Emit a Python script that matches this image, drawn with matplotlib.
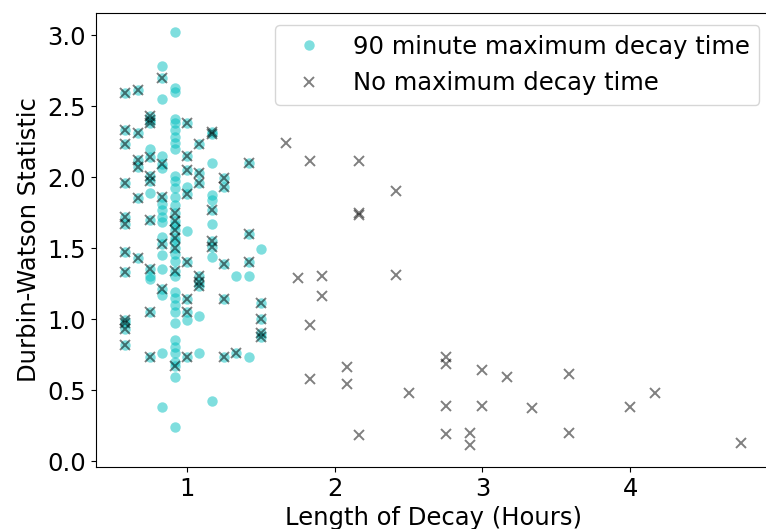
import matplotlib
matplotlib.use("Agg")
import matplotlib.pyplot as plt

# Points present in both series (decay <= 90 min)
both_x = ([0.583] * 12 + [0.667] * 6 + [0.75] * 10 + [0.833] * 5 + [0.917] * 7 +
          [1.0] * 8 + [1.083] * 6 + [1.167] * 5 + [1.25] * 5 + [1.333] * 1 +
          [1.417] * 3 + [1.5] * 4)
both_y = [2.59, 2.33, 2.23, 1.96, 1.72, 1.67, 1.47, 1.33, 0.99, 0.97, 0.93, 0.82,
          2.61, 2.31, 2.12, 2.07, 1.85, 1.43,
          2.43, 2.40, 2.38, 2.14, 2.01, 1.97, 1.70, 1.35, 1.05, 0.73,
          2.70, 2.09, 1.86, 1.53, 1.21,
          1.75, 1.69, 1.63, 1.57, 1.50, 1.34, 0.67,
          2.38, 2.15, 2.05, 1.88, 1.40, 1.14, 1.05, 0.73,
          2.23, 2.03, 1.96, 1.30, 1.26, 1.23,
          2.32, 2.30, 1.77, 1.55, 1.51,
          1.99, 1.93, 1.39, 1.14, 0.73,
          0.76,
          2.10, 1.60, 1.40,
          1.11, 1.00, 0.90, 0.87]

# Points only in the 90-minute-maximum series
cap_only_x = ([0.75] * 4 + [0.833] * 14 + [0.917] * 30 + [1.0] * 3 + [1.083] * 2 +
              [1.167] * 6 + [1.333] * 1 + [1.417] * 2 + [1.5] * 1)
cap_only_y = [2.20, 1.89, 1.30, 1.28,
              2.78, 2.55, 2.15, 2.06, 1.81, 1.77, 1.72, 1.685, 1.58, 1.45, 1.35, 1.17, 0.76, 0.38,
              3.02, 2.63, 2.60, 2.41, 2.38, 2.33, 2.28, 2.24, 2.20, 2.01, 1.97, 1.92, 1.86, 1.80,
              1.55, 1.46, 1.41, 1.30, 1.19, 1.15, 1.10, 1.05, 0.97, 0.85, 0.80, 0.76, 0.70, 0.59,
              0.24, 1.66,
              1.93, 1.62, 0.99,
              1.02, 0.76,
              2.10, 1.87, 1.84, 1.67, 1.44, 0.42,
              1.30,
              1.30, 0.73,
              1.49]

# Points only in the no-maximum series (decay > 90 min)
nomax_only_x = [1.667, 1.833, 2.167, 2.417, 2.167, 2.167, 1.75, 1.917, 2.417, 1.917,
                1.833, 1.833, 2.083, 2.083, 2.167, 2.5, 2.75, 2.75, 2.75, 2.75,
                2.917, 2.917, 3.0, 3.0, 3.167, 3.583, 3.333, 3.583, 4.0, 4.167, 4.75]
nomax_only_y = [2.24, 2.11, 2.11, 1.90, 1.75, 1.73, 1.29, 1.30, 1.31, 1.16,
                0.96, 0.58, 0.66, 0.54, 0.18, 0.48, 0.73, 0.68, 0.39, 0.19,
                0.20, 0.11, 0.64, 0.39, 0.59, 0.61, 0.37, 0.20, 0.38, 0.48, 0.13]

cap_x = both_x + cap_only_x
cap_y = both_y + cap_only_y
nomax_x = both_x + nomax_only_x
nomax_y = both_y + nomax_only_y

plt.rcParams['font.family'] = ['DejaVu Sans']
plt.rcParams['font.size'] = 17.5

W, H = 766, 529
fig = plt.figure(figsize=(W / 100, H / 100), dpi=100)
left, right, top, bottom = 95.5, 771.6, 13, 467
ax = fig.add_axes([left / W, (H - bottom) / H, (right - left) / W, (bottom - top) / H])

ax.plot(cap_x, cap_y, 'o', color='c', alpha=0.5, markersize=7.5, markeredgewidth=0,
        label='90 minute maximum decay time')
ax.plot(nomax_x, nomax_y, 'x', color='k', alpha=0.5, markersize=7, markeredgewidth=1.4,
        label='No maximum decay time')

ax.set_xlim(0.380, 4.958)
ax.set_ylim(-0.042, 3.155)
ax.set_xticks([1, 2, 3, 4])
ax.set_yticks([0.0, 0.5, 1.0, 1.5, 2.0, 2.5, 3.0])
ax.set_xlabel('Length of Decay (Hours)')
ax.set_ylabel('Durbin-Watson Statistic')
ax.legend(loc='upper right', fontsize=17.5)

fig.savefig('out.png', dpi=100)
